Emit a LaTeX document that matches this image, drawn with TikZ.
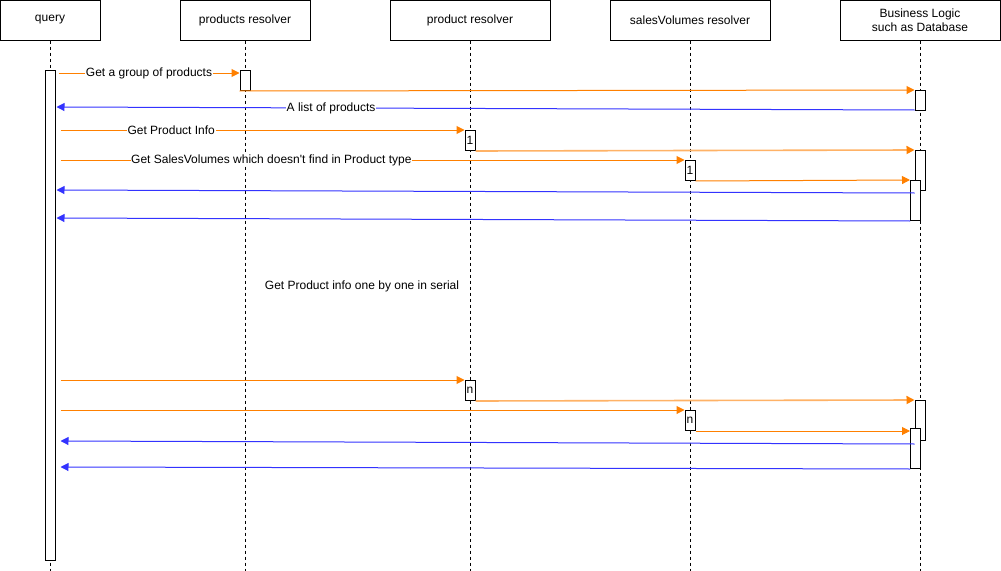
\documentclass[tikz,border=0pt]{standalone}
\usepackage{fontspec}
\setmainfont{Liberation Sans}
\usepackage{tikz}
\usetikzlibrary{arrows.meta,calc,positioning}

\definecolor{callorange}{HTML}{FF8000}
\definecolor{fadeorange}{HTML}{FFB266}
\definecolor{retblue}{HTML}{3333FF}

\begin{document}
\begin{tikzpicture}[
    x=0.75pt, y=-0.75pt,
    every node/.style={font=\fontsize{9}{10.5}\selectfont},
    head/.style={draw, line width=0.75pt, minimum height=30pt, inner sep=0pt, align=center},
    life/.style={line width=0.75pt, dash pattern=on 2.25pt off 2.25pt},
    bar/.style={draw, fill=white, line width=0.75pt, minimum width=7.5pt, inner sep=0pt, anchor=north},
    call/.style={draw=callorange, line width=0.75pt, -{Triangle[length=6pt,width=6pt]}},
    fwd/.style={draw=fadeorange, line width=1.2pt, -{Triangle[length=6pt,width=6pt,color=callorange]}},
    back/.style={draw=retblue, line width=0.75pt, -{Triangle[length=6pt,width=6pt]}},
    lbl/.style={fill=white, inner sep=0.5pt}
]
\useasboundingbox (0,0) rectangle (1001,571);
\coordinate (bottom) at (0,571);

% Lifeline heads
\node[head, minimum width=75pt] (query) at (50,20) {query};
\node[head, minimum width=97.5pt] (prods) at (245,20) {products resolver};
\node[head, minimum width=120pt] (prod) at (470,20) {product resolver};
\node[head, minimum width=120pt] (sales) at (690,20) {salesVolumes resolver};
\node[head, minimum width=120pt] (biz) at (920,20) {Business Logic\\such as Database};

% Lifelines
\foreach \h in {query,prods,prod,sales,biz}
    \draw[life] (\h.south) -- (\h.south |- bottom);

% Activation bars
\node[bar, minimum height=367.5pt] (qbar) at (50,70) {};
\node[bar, minimum height=15pt] (pbar) at (245,70) {};
\node[bar, minimum height=15pt] (bbar1) at (920,90) {};
\node[bar, minimum height=15pt] (prod1) at (470,130) {1};
\node[bar, minimum height=30pt] (bbar2) at (920,150) {};
\node[bar, minimum height=15pt] (sales1) at (690,160) {1};
\node[bar, minimum height=30pt] (bbar3) at (915.5,180) {};
\node[bar, minimum height=15pt] (prodn) at (470,380) {n};
\node[bar, minimum height=30pt] (bbar4) at (920,400) {};
\node[bar, minimum height=15pt] (salesn) at (690,410) {n};
\node[bar, minimum height=30pt] (bbar5) at (915.5,428) {};

% First round
\draw[call] ($(qbar.east|-pbar.north)+(3,3)$)
    -- node[lbl] {Get a group of products}
    ($(pbar.north west)+(0,3)$);
\draw[call] (pbar.south west) -- (bbar1.north west);
\draw[back] ($(bbar1.south west)+(0,-1)$)
    -- node[lbl, pos=0.68] {A list of products}
    ($(qbar.east|-bbar1.south)+(1,-4)$);
\draw[call] ($(qbar.east|-prod1.north)+(5,0)$)
    -- node[lbl, pos=0.274] {Get Product Info}
    (prod1.north west);
\draw[fwd] (prod1.south east) -- (bbar2.north west);
\draw[call] ($(qbar.east|-sales1.north)+(5,0)$)
    -- node[lbl, pos=0.338] {Get SalesVolumes which doesn\textquotesingle t find in Product type}
    (sales1.north west);
\draw[call] (sales1.south east) -- (bbar3.north west);
\draw[back] ($(bbar2.south west)+(0,2)$) -- ($(qbar.east|-bbar2.south)+(1,-1)$);
\draw[back] (bbar3.south west) -- ($(qbar.east|-bbar3.south)+(1,-3)$);

\node (serial) at (362,286) {Get Product info one by one in serial};

% Last round
\draw[call] ($(qbar.east|-prodn.north)+(5,0)$) -- (prodn.north west);
\draw[fwd] (prodn.south east) -- (bbar4.north west);
\draw[call] ($(qbar.east|-salesn.north)+(5,0)$) -- (salesn.north west);
\draw[call] (salesn.south east) -- (bbar5.west|-salesn.south);
\draw[back] ($(bbar4.south west)+(0,3)$) -- ($(qbar.east|-bbar4.south)+(5,0)$);
\draw[back] (bbar5.south west) -- ($(qbar.east|-bbar5.south)+(5,-2)$);
\end{tikzpicture}
\end{document}
